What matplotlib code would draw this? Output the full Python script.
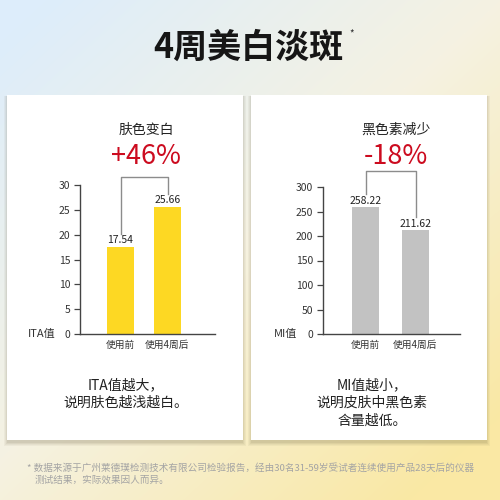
import numpy as np
import matplotlib
matplotlib.use("Agg")
import matplotlib.pyplot as plt
from matplotlib.patches import Rectangle
from matplotlib.colors import to_rgb

plt.rcParams['font.family'] = ['Noto Sans CJK SC', 'DejaVu Sans']

# ---------------- data ----------------
title = "4周美白淡斑"
categories = ["使用前", "使用4周后"]

left_title = "肤色变白"
left_change = "+46%"
left_values = [17.54, 25.66]
left_value_labels = ["17.54", "25.66"]
left_yticks = [0, 5, 10, 15, 20, 25, 30]
left_ylabel = "ITA值"
left_note = ["ITA值越大，", "说明肤色越浅越白。"]

right_title = "黑色素减少"
right_change = "-18%"
right_values = [258.22, 211.62]
right_value_labels = ["258.22", "211.62"]
right_yticks = [0, 50, 100, 150, 200, 250, 300]
right_ylabel = "MI值"
right_note = ["MI值越小，", "说明皮肤中黑色素", "含量越低。"]

footnote = ["* 数据来源于广州莱德璞检测技术有限公司检验报告，经由30名31-59岁受试者连续使用产品28天后的仪器",
            "测试结果，实际效果因人而异。"]

# ---------------- styles ----------------
YELLOW = "#fdd823"
GREY = "#c2c2c2"
RED = "#cc0b1f"
AXC = "#444444"
TXT = "#222222"

W = H = 500
fig = plt.figure(figsize=(5, 5), dpi=100)
bg = fig.add_axes([0, 0, 1, 1])
bg.set_xlim(0, W)
bg.set_ylim(H, 0)
bg.axis('off')

# background gradient
yy, xx = np.mgrid[0:H, 0:W]
t = np.clip(0.55 * xx / W + 0.6 * yy / H - 0.05, 0, 1)
c0 = np.array(to_rgb("#ddedfb"))
c1 = np.array(to_rgb("#f5f2e2"))
c2 = np.array(to_rgb("#fae8a4"))
img = np.where(t[..., None] < 0.5,
               c0 + (c1 - c0) * (t[..., None] / 0.5),
               c1 + (c2 - c1) * ((t[..., None] - 0.5) / 0.5))
bg.imshow(img, extent=(0, W, H, 0), aspect='auto', zorder=0)

# cards with shadow
for (x0, x1) in [(7, 243), (251, 487)]:
    y0, y1 = 95, 440
    for i, a in enumerate([0.05, 0.05, 0.07, 0.08]):
        d = 4 - i
        bg.add_patch(Rectangle((x0 - d + 1, y0 + 1), (x1 - x0) + 2 * d - 2, (y1 - y0) + d + 1,
                               facecolor="#5a5030", alpha=a, edgecolor='none', zorder=1))
    bg.add_patch(Rectangle((x0, y0), x1 - x0, y1 - y0, facecolor="white",
                           edgecolor='none', zorder=2))

# title
bg.text(248, 47, title, ha='center', va='center', fontsize=24.5, fontweight='bold',
        color="#161616", zorder=3)
bg.text(352, 33, "*", ha='center', va='center', fontsize=7, color="#333333", zorder=3)


def make_chart(px_left, px_right, px_y0, px_ytop, ymax, centers, vals, vlabels, color,
               yticks, bracket_top_px, ylabel, ylabel_right, sub_title, change, cx,
               notes, note_cx):
    ax = fig.add_axes([px_left / W, (H - px_y0) / H, (px_right - px_left) / W,
                       (px_y0 - px_ytop) / H])
    ax.patch.set_alpha(0)
    gap = centers[1] - centers[0]
    ax.set_xlim(-(centers[0] - px_left) / gap, 1 + (px_right - centers[1]) / gap)
    ax.set_ylim(0, ymax)
    ppu = (px_y0 - px_ytop) / ymax
    xs = np.arange(len(vals))
    ax.bar(xs, vals, width=27 / gap, color=color, zorder=2)
    for s in ['top', 'right']:
        ax.spines[s].set_visible(False)
    for s in ['left', 'bottom']:
        ax.spines[s].set_color(AXC)
        ax.spines[s].set_linewidth(1.0)
    ax.set_yticks(yticks)
    ax.set_yticklabels([str(v) for v in yticks])
    ax.tick_params(axis='y', length=4, width=0.9, color=AXC, labelsize=7.5,
                   labelcolor="#333333", pad=3)
    ax.set_xticks(xs)
    ax.set_xticklabels(categories)
    ax.tick_params(axis='x', length=0, labelsize=7, labelcolor="#333333", pad=4)
    for x, v, lab in zip(xs, vals, vlabels):
        ax.annotate(lab, (x, v), xytext=(0, 1), textcoords='offset points',
                    ha='center', va='bottom', fontsize=7.5, color=TXT)
    top = (px_y0 - bracket_top_px) / ppu
    b0 = vals[0] + 13 / ppu
    b1 = vals[1] + 13 / ppu
    ax.plot([0, 0, 1, 1], [b0, top, top, b1], color="#8c8c8c", lw=1.0,
            clip_on=False, zorder=3)
    # labels in pixel space
    bg.text(ylabel_right, px_y0, ylabel, ha='right', va='center', fontsize=8,
            color="#333333", zorder=3)
    bg.text(cx, 130, sub_title, ha='center', va='center', fontsize=10, color=TXT, zorder=3)
    bg.text(cx, 157, change, ha='center', va='center', fontsize=19.5, color=RED, zorder=3)
    for i, line in enumerate(notes):
        bg.text(note_cx, 385 + 18 * i, line, ha='center', va='center', fontsize=10,
                color=TXT, zorder=3)
    return ax


make_chart(80, 215, 334, 185, 30, (120.5, 167.5), left_values, left_value_labels, YELLOW,
           left_yticks, 177, left_ylabel, 56, left_title, left_change, 146, left_note, 126)
make_chart(323, 460, 334, 187, 300, (365.5, 415.5), right_values, right_value_labels, GREY,
           right_yticks, 171, right_ylabel, 297, right_title, right_change, 396, right_note, 372)

# footnote
bg.text(27, 468, footnote[0], ha='left', va='center', fontsize=6.9, color="#a4a4a4", zorder=3)
bg.text(35, 480, footnote[1], ha='left', va='center', fontsize=6.9, color="#a4a4a4", zorder=3)

fig.savefig("out.png", dpi=100)
